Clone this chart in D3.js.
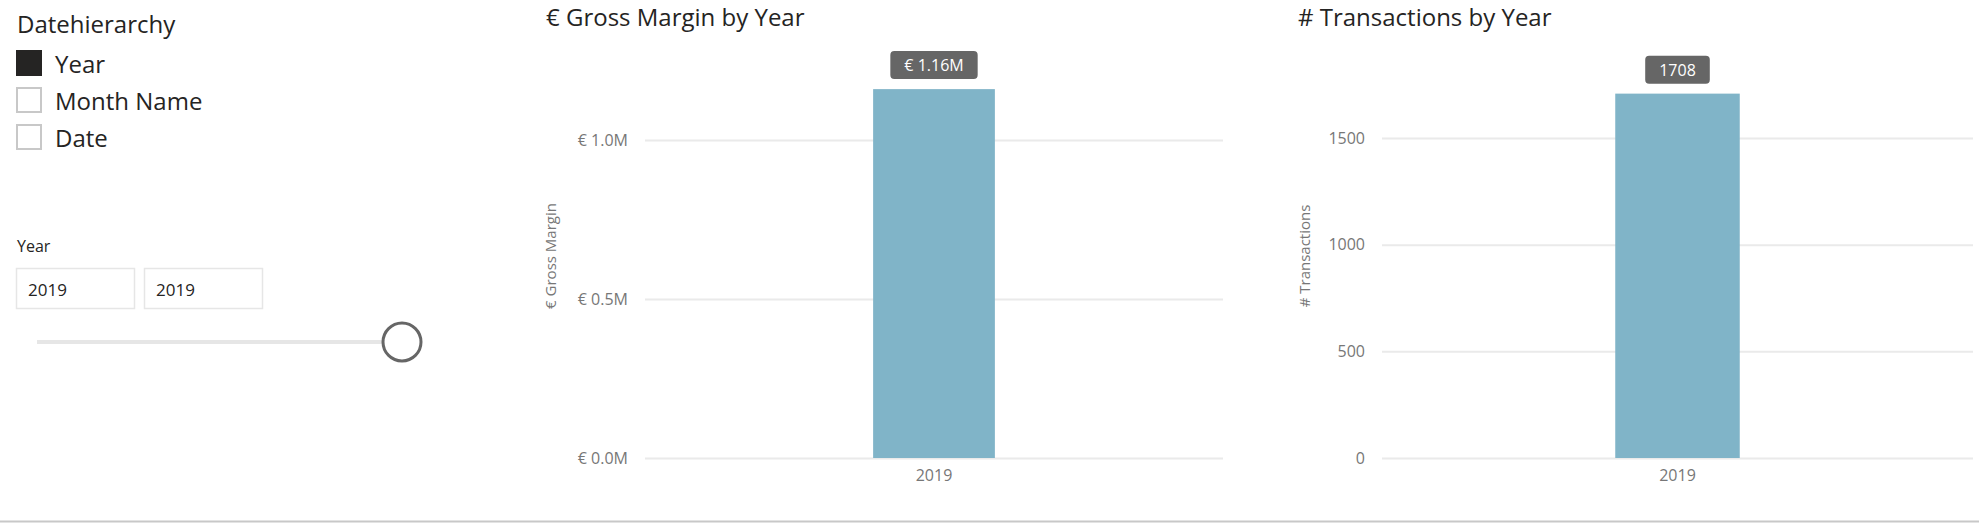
<!DOCTYPE html>
<html>
<head>
<meta charset="utf-8">
<script src="https://cdn.jsdelivr.net/npm/d3@7"></script>
<style>
  body { margin: 0; background: #fff; }
  svg { display: block; font-family: "Segoe UI", "Open Sans", sans-serif; }
</style>
</head>
<body>
<svg id="report" width="1979" height="523"></svg>
<script>
// data
const years = ["2019"];
const grossMargin = [1160000];
const transactions = [1708];
const marginTicks = [0, 500000, 1000000];
const transactionTicks = [0, 500, 1000, 1500];
const hierarchyLevels = ["Year", "Month Name", "Date"];
const selectedLevels = ["Year"];
const yearRange = ["2019", "2019"];

const svg = d3.select("svg#report");
const width = +svg.attr("width");
const height = +svg.attr("height");

const fontStack = '"Segoe UI", "Open Sans", sans-serif';
const textColor = "#252423";
const axisColor = "#777777";
const barColor = "#80b4c8";
const gridColor = "#eaeaea";

//hierarchy slicer
const slicer = svg.append("g").attr("id", "hierarchy-slicer");

slicer
  .append("text")
  .attr("x", 17)
  .attr("y", 33)
  .attr("fill", textColor)
  .style("font-size", "24px")
  .text("Datehierarchy");

const items = slicer
  .selectAll(".level")
  .data(hierarchyLevels)
  .join("g")
  .attr("class", "level")
  .attr("transform", (d, i) => `translate(16,${50 + i * 37})`);

items
  .append("rect")
  .attr("x", 1)
  .attr("y", 1)
  .attr("width", 24)
  .attr("height", 24)
  .attr("fill", (d) => (selectedLevels.includes(d) ? textColor : "#fff"))
  .attr("stroke", (d) => (selectedLevels.includes(d) ? textColor : "#c8c8c8"))
  .attr("stroke-width", 2);

items
  .append("text")
  .attr("x", 39)
  .attr("y", 23)
  .attr("fill", textColor)
  .style("font-size", "24px")
  .text((d) => d);

//year range slicer
const range = svg.append("g").attr("id", "year-range");

range
  .append("text")
  .attr("x", 17)
  .attr("y", 252)
  .attr("fill", textColor)
  .style("font-size", "16px")
  .text("Year");

const boxes = range
  .selectAll(".range-box")
  .data(yearRange)
  .join("g")
  .attr("class", "range-box")
  .attr("transform", (d, i) => `translate(${16 + i * 128},268)`);

boxes
  .append("rect")
  .attr("x", 0.5)
  .attr("y", 0.5)
  .attr("width", 118)
  .attr("height", 40)
  .attr("fill", "#fff")
  .attr("stroke", "#e6e6e6")
  .attr("stroke-width", 1.5);

boxes
  .append("text")
  .attr("x", 12)
  .attr("y", 28)
  .attr("fill", textColor)
  .style("font-size", "17px")
  .text((d) => d);

range
  .append("line")
  .attr("x1", 37)
  .attr("x2", 402)
  .attr("y1", 342)
  .attr("y2", 342)
  .attr("stroke", "#e6e6e6")
  .attr("stroke-width", 4);

range
  .append("circle")
  .attr("cx", 402)
  .attr("cy", 342)
  .attr("r", 19)
  .attr("fill", "#fff")
  .attr("stroke", "#666")
  .attr("stroke-width", 3);

//bar charts
function drawBarChart(cfg) {
  const chart = svg.append("g").attr("id", cfg.id);

  chart
    .append("text")
    .attr("x", cfg.titleX)
    .attr("y", 26)
    .attr("fill", textColor)
    .style("font-size", "24px")
    .text(cfg.title);

  const plotWidth = cfg.right - cfg.left;

  const xScale = d3
    .scaleBand()
    .domain(cfg.categories)
    .range([cfg.left, cfg.right])
    .padding(0.652);

  const yScale = d3
    .scaleLinear()
    .domain([0, cfg.ticks[cfg.ticks.length - 1]])
    .range([cfg.zeroY, cfg.topTickY]);

  // grid + y labels
  const yAxis = d3
    .axisLeft(yScale)
    .tickValues(cfg.ticks)
    .tickFormat(cfg.tickFormat)
    .tickSize(-plotWidth)
    .tickPadding(17);

  const yG = chart
    .append("g")
    .attr("class", "y axis")
    .attr("transform", `translate(${cfg.left},0)`)
    .call(yAxis)
    .attr("font-family", fontStack)
    .attr("font-size", 16);
  yG.select(".domain").remove();
  yG.selectAll("line").attr("stroke", gridColor).attr("stroke-width", 2);
  yG.selectAll("text").attr("fill", axisColor);

  const xAxis = d3.axisBottom(xScale).tickSize(0).tickPadding(12);
  const xG = chart
    .append("g")
    .attr("class", "x axis")
    .attr("transform", `translate(0,${cfg.zeroY})`)
    .call(xAxis)
    .attr("font-family", fontStack)
    .attr("font-size", 16);
  xG.select(".domain").remove();
  xG.selectAll("text").attr("fill", axisColor);

  chart
    .append("text")
    .attr("transform", `translate(${cfg.axisTitleX},256) rotate(-90)`)
    .attr("text-anchor", "middle")
    .attr("dy", "0.35em")
    .attr("fill", axisColor)
    .style("font-size", "15px")
    .text(cfg.axisTitle);

  const rows = cfg.categories.map((c, i) => ({ cat: c, value: cfg.values[i] }));

  chart
    .append("g")
    .attr("class", "bars")
    .selectAll("rect")
    .data(rows)
    .join("rect")
    .attr("x", (d) => xScale(d.cat))
    .attr("y", (d) => yScale(d.value))
    .attr("width", xScale.bandwidth())
    .attr("height", (d) => cfg.zeroY - yScale(d.value))
    .attr("fill", barColor);

  // data labels in dark rounded boxes
  const labels = chart
    .append("g")
    .attr("class", "data-labels")
    .selectAll("g")
    .data(rows)
    .join("g")
    .attr(
      "transform",
      (d) => `translate(${xScale(d.cat) + xScale.bandwidth() / 2},${yScale(d.value) - 10})`
    );

  labels.append("rect").attr("fill", "#666").attr("rx", 4);

  const labelText = labels
    .append("text")
    .attr("text-anchor", "middle")
    .attr("y", -8)
    .attr("fill", "#fff")
    .style("font-size", "16px")
    .text((d) => cfg.labelFormat(d.value));

  labelText.each(function () {
    const w = this.getComputedTextLength();
    d3.select(this.parentNode)
      .select("rect")
      .attr("x", -w / 2 - 14)
      .attr("y", -28)
      .attr("width", w + 28)
      .attr("height", 28);
  });
}

drawBarChart({
  id: "gross-margin",
  title: "€ Gross Margin by Year",
  titleX: 546,
  axisTitle: "€ Gross Margin",
  axisTitleX: 551,
  categories: years,
  values: grossMargin,
  ticks: marginTicks,
  tickFormat: (d) => `€ ${(d / 1e6).toFixed(1)}M`,
  labelFormat: (d) => `€ ${(d / 1e6).toFixed(2)}M`,
  left: 645,
  right: 1223,
  zeroY: 458,
  topTickY: 140,
});

drawBarChart({
  id: "transactions",
  title: "# Transactions by Year",
  titleX: 1298,
  axisTitle: "# Transactions",
  axisTitleX: 1305,
  categories: years,
  values: transactions,
  ticks: transactionTicks,
  tickFormat: d3.format("d"),
  labelFormat: d3.format("d"),
  left: 1382,
  right: 1973,
  zeroY: 458,
  topTickY: 138,
});

// page bottom border
svg
  .append("line")
  .attr("x1", 0)
  .attr("x2", width)
  .attr("y1", height - 1.5)
  .attr("y2", height - 1.5)
  .attr("stroke", "#c8c8c8")
  .attr("stroke-width", 2);
</script>
</body>
</html>
